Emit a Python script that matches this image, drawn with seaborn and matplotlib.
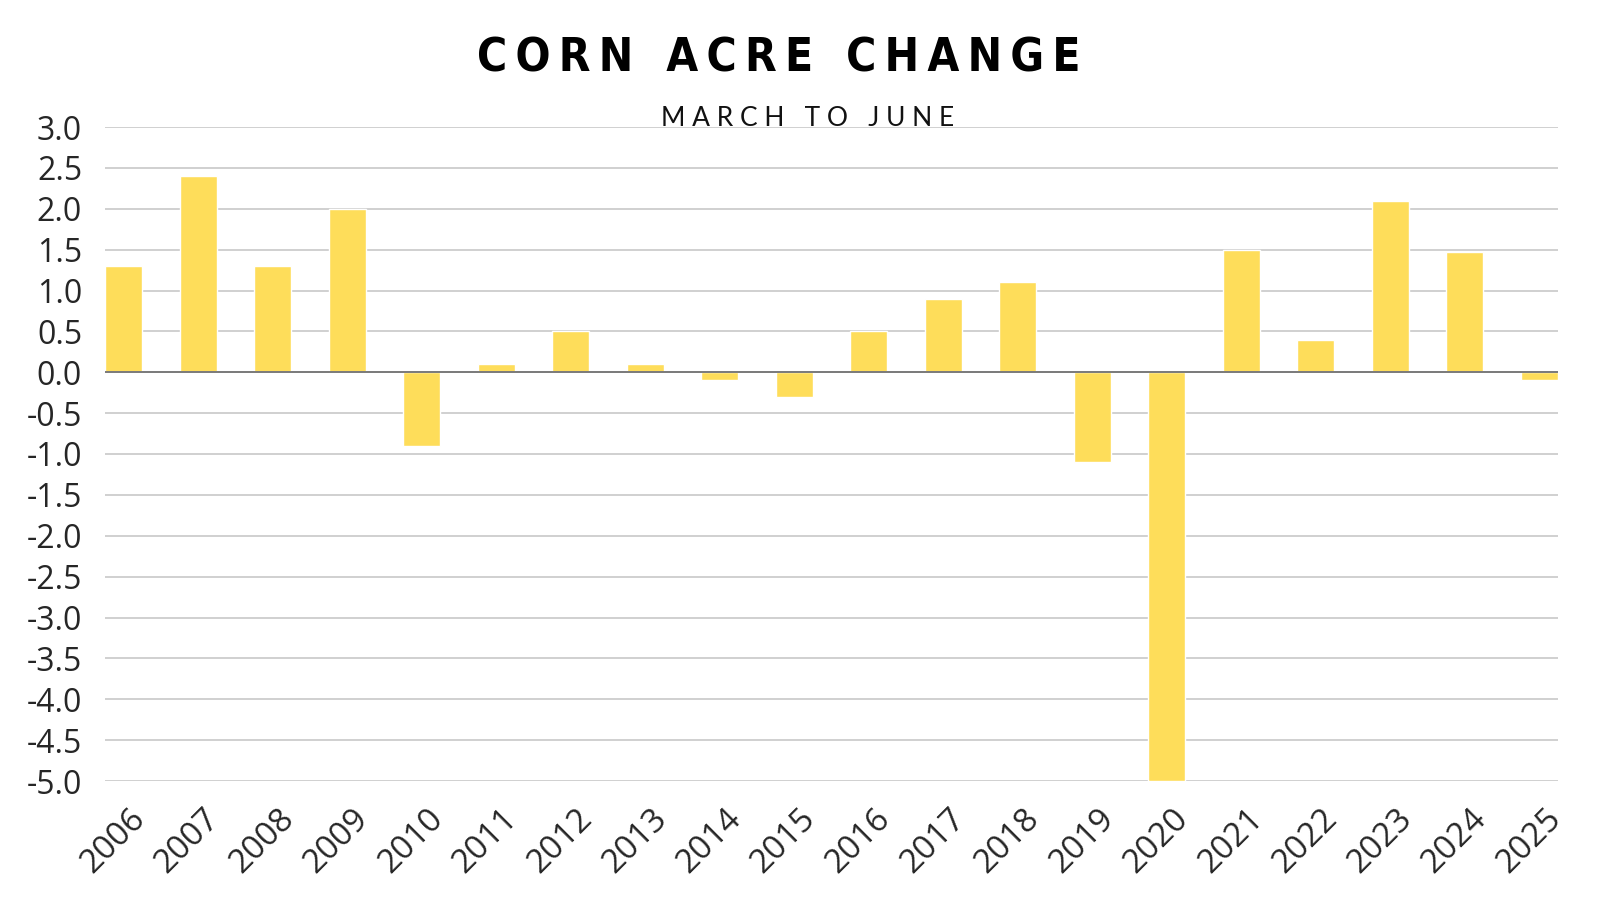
import matplotlib
matplotlib.use('Agg')
import matplotlib.pyplot as plt
import matplotlib.transforms as mtransforms
import seaborn as sns
import pandas as pd

# data
years = ['2006', '2007', '2008', '2009', '2010', '2011', '2012', '2013', '2014', '2015',
         '2016', '2017', '2018', '2019', '2020', '2021', '2022', '2023', '2024', '2025']
change = [1.3, 2.4, 1.3, 2.0, -0.9, 0.1, 0.5, 0.1, -0.1, -0.3,
          0.5, 0.9, 1.1, -1.1, -5.0, 1.5, 0.4, 2.1, 1.47, -0.1]
yticks = [3.0, 2.5, 2.0, 1.5, 1.0, 0.5, 0.0, -0.5, -1.0, -1.5, -2.0,
          -2.5, -3.0, -3.5, -4.0, -4.5, -5.0]

df = pd.DataFrame({'Year': years, 'Change': change})

sns.set_style('white')
plt.rcParams['font.family'] = ['Open Sans', 'DejaVu Sans']

fig = plt.figure(figsize=(16, 9), dpi=100)
ax = fig.add_axes([105 / 1600, 1 - 781 / 900, (1558 - 105) / 1600, (781 - 127) / 900])

sns.barplot(data=df, x='Year', y='Change', color='#FEDD5A', saturation=1,
            width=0.5, ax=ax, zorder=3)

ax.set_ylim(-5.0, 3.0)
ax.set_xlim(-0.25, 19.25)
ax.set_yticks(yticks)
ax.set_yticklabels([f'{v:.1f}' for v in yticks], fontsize=23)
ax.yaxis.grid(True, color='#c8c8c8', linewidth=1.2, zorder=0)
ax.axhline(0, color='#7a7a7a', linewidth=1.4, zorder=4)
for s in ax.spines.values():
    s.set_visible(False)
ax.tick_params(axis='y', length=0, pad=16.5)
ax.tick_params(axis='x', length=0, pad=15)
# shift the rotated year labels a little to the right like in the original
shift = mtransforms.ScaledTranslation(5 / 100, 0, fig.dpi_scale_trans)
for lab in ax.get_xticklabels():
    lab.set_rotation(45)
    lab.set_ha('right')
    lab.set_va('top')
    lab.set_rotation_mode('anchor')
    lab.set_fontsize(24)
    lab.set_transform(lab.get_transform() + shift)
ax.set_xlabel('')
ax.set_ylabel('')

#titles, letter spaced with thin spaces
ts = '\u2009'
title = (4 * ts).join(ts.join(w) for w in ['CORN', 'ACRE', 'CHANGE'])
fig.text(779 / 1600, 1 - 59 / 900, title,
         ha='center', va='center', fontsize=33, fontweight='bold',
         fontstretch='condensed', family=['DejaVu Sans'], color='black')
fig.text(808 / 1600, 1 - 118 / 900, 'M A R C H   T O   J U N E',
         ha='center', va='center', fontsize=19, family=['Lato', 'DejaVu Sans'],
         color='#111111')

fig.savefig('out.png', dpi=100)
